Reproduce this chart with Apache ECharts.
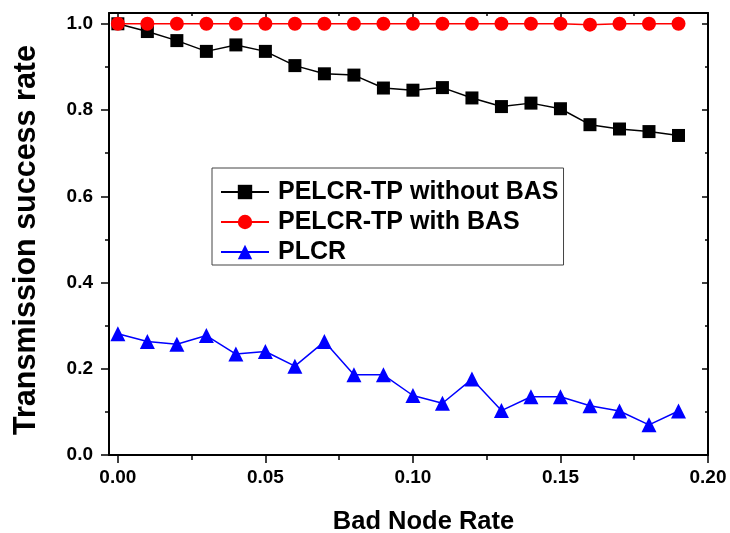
<!DOCTYPE html>
<html>
<head>
<meta charset="utf-8">
<script src="https://cdn.jsdelivr.net/npm/echarts@6/dist/echarts.min.js"></script>
<style>
html,body{margin:0;padding:0;background:#fff;}
#chart{width:730px;height:533px;}
</style>
</head>
<body>
<div id="chart"></div>
<script>
// ---- data ----
var badNodeRate = [0.00,0.01,0.02,0.03,0.04,0.05,0.06,0.07,0.08,0.09,0.10,0.11,0.12,0.13,0.14,0.15,0.16,0.17,0.18,0.19];
var withoutBAS = [1.000,0.982,0.961,0.936,0.951,0.936,0.903,0.884,0.881,0.851,0.846,0.852,0.828,0.808,0.816,0.803,0.766,0.756,0.750,0.741];
var withBAS    = [1.000,1.000,1.000,1.000,1.000,1.000,1.000,1.000,1.000,1.000,1.000,1.000,1.000,1.000,1.000,1.000,0.998,1.000,1.000,1.000];
var plcr       = [0.281,0.263,0.257,0.277,0.234,0.240,0.206,0.263,0.186,0.186,0.138,0.120,0.176,0.103,0.135,0.135,0.114,0.102,0.070,0.102];
var seriesNames = ['PELCR-TP without BAS','PELCR-TP with BAS','PLCR'];
var xMajorTicks = [0,0.05,0.10,0.15,0.20];
var xMinorTicks = [0.025,0.075,0.125,0.175];
var yMajorTicks = [0,0.2,0.4,0.6,0.8,1.0];
var yMinorTicks = [0.1,0.3,0.5,0.7,0.9];
var xTitle = 'Bad Node Rate';
var yTitle = 'Transmission success rate';

function pairs(ys){ return ys.map(function(v,i){ return [badNodeRate[i], v]; }); }

var FONT = '"Liberation Sans", Arial, sans-serif';
var X_MIN = -0.003, X_MAX = 0.2, Y_MIN = 0, Y_MAX = 1.025;

function xAxisDef(pos, ticks, len, inside, showLine, showLabel, extra){
  var a = {
    type:'value', position:pos, min:X_MIN, max:X_MAX,
    axisLine:{show:showLine, onZero:false, lineStyle:{color:'#000', width:2}},
    axisTick:{show:true, inside:inside, length:len, customValues:ticks, lineStyle:{color:'#000', width:1.5}},
    axisLabel:{show:showLabel, customValues:ticks},
    splitLine:{show:false}
  };
  if (extra) for (var k in extra) a[k] = extra[k];
  return a;
}
function yAxisDef(pos, ticks, len, inside, showLine, showLabel, extra){
  var a = {
    type:'value', position:pos, min:Y_MIN, max:Y_MAX,
    axisLine:{show:showLine, onZero:false, lineStyle:{color:'#000', width:2}},
    axisTick:{show:true, inside:inside, length:len, customValues:ticks, lineStyle:{color:'#000', width:1.5}},
    axisLabel:{show:showLabel, customValues:ticks},
    splitLine:{show:false}
  };
  if (extra) for (var k in extra) a[k] = extra[k];
  return a;
}

var xMain = xAxisDef('bottom', xMajorTicks, 8, false, true, true, {
  name: xTitle, nameLocation:'middle', nameGap:54,
  nameTextStyle:{fontFamily:FONT, fontWeight:'bold', fontSize:25.5, color:'#000', padding:[0,0,0,30]}
});
xMain.axisLabel = {show:true, customValues:xMajorTicks, margin:13,
  formatter:function(v){ return (+v).toFixed(2); },
  fontFamily:FONT, fontWeight:'bold', fontSize:19, color:'#000'};

var yMain = yAxisDef('left', yMajorTicks, 8, false, true, true, {
  name: yTitle, nameLocation:'middle', nameGap:67,
  nameTextStyle:{fontFamily:FONT, fontWeight:'bold', fontSize:30.5, color:'#000', padding:[0,12,0,0]}
});
yMain.axisLabel = {show:true, customValues:yMajorTicks, margin:16,
  formatter:function(v){ return (+v).toFixed(1); },
  fontFamily:FONT, fontWeight:'bold', fontSize:19, color:'#000'};

var option = {
  backgroundColor:'#fff',
  animation:false,
  grid:{left:109, right:22, top:13, bottom:78, containLabel:false, outerBoundsMode:'none'},
  legend:{
    orient:'vertical', left:212, top:168,
    padding:[11,5,0,8],
    itemGap:4, itemWidth:48, itemHeight:18,
    borderColor:'#444', borderWidth:1, borderRadius:0,
    backgroundColor:'#fff',
    textStyle:{fontFamily:FONT, fontWeight:'bold', fontSize:25, color:'#000', lineHeight:26, padding:[0,0,0,4]},
    data: seriesNames
  },
  xAxis:[
    xMain,
    xAxisDef('bottom', xMinorTicks, 5, false, false, false),
    xAxisDef('top', xMajorTicks, 6, true, true, false),
    xAxisDef('top', xMinorTicks, 3, true, false, false)
  ],
  yAxis:[
    yMain,
    yAxisDef('left', yMinorTicks, 4, false, false, false),
    yAxisDef('right', yMajorTicks, 6, true, true, false),
    yAxisDef('right', yMinorTicks, 3, true, false, false)
  ],
  series:[
    {name:seriesNames[0], type:'line', data:pairs(withoutBAS), symbol:'rect', symbolSize:13,
     itemStyle:{color:'#000'}, lineStyle:{color:'#000', width:1.5}, z:2},
    {name:seriesNames[1], type:'line', data:pairs(withBAS), symbol:'circle', symbolSize:14,
     itemStyle:{color:'#ff0000'}, lineStyle:{color:'#ff0000', width:1.5}, z:3},
    {name:seriesNames[2], type:'line', data:pairs(plcr), symbol:'triangle', symbolSize:15,
     itemStyle:{color:'#0000ff'}, lineStyle:{color:'#0000ff', width:1.5}, z:4}
  ]
};
var chart = echarts.init(document.getElementById('chart'), null, {renderer:'canvas'});
chart.setOption(option);
</script>
</body>
</html>
